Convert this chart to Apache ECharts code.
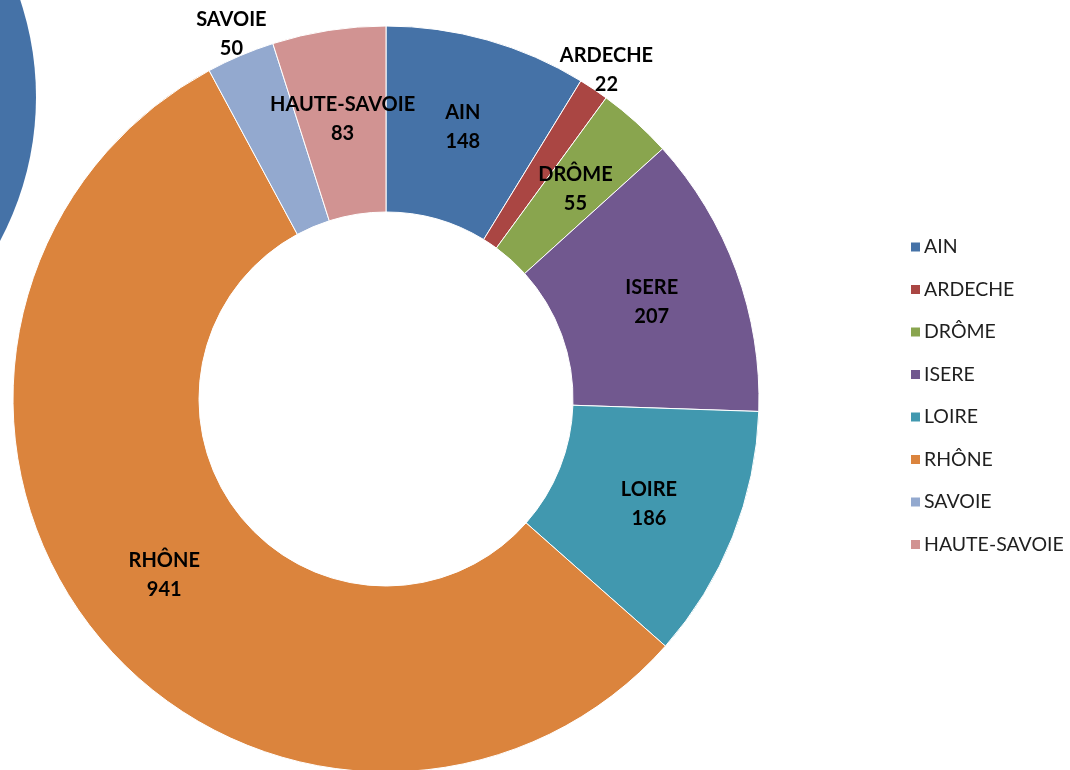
<!DOCTYPE html>
<html><head><meta charset="utf-8">
<script src="https://cdn.jsdelivr.net/npm/echarts@6/dist/echarts.min.js"></script>
<style>html,body{margin:0;padding:0;background:#fff}#c{width:1070px;height:770px}</style>
</head><body><div id="c"></div>
<script>
const categories = ['AIN','ARDECHE','DRÔME','ISERE','LOIRE','RHÔNE','SAVOIE','HAUTE-SAVOIE'];
const values = [148,22,55,207,186,941,50,83];
const colors = ['#4572A7','#AA4643','#89A54E','#71588F','#4198AF','#DB843D','#93A9CF','#D19392'];
const outsideLabels = ['ARDECHE','SAVOIE'];

const font = 'Lato, "Open Sans", sans-serif';
const chart = echarts.init(document.getElementById('c'));
const labelStyle = {
  formatter: '{b}\n{c}', fontFamily: font, fontWeight: 'bold', fontSize: 20,
  lineHeight: 29, color: '#000'
};
chart.setOption({
  animation: false,
  color: colors,
  graphic: [{ type: 'circle', shape: { cx: -270, cy: 97, r: 306 }, style: { fill: '#4572A7' }, z: 0 }],
  legend: {
    orient: 'vertical', left: 904, top: 232, itemGap: 22.5,
    itemWidth: 11, itemHeight: 11, icon: 'rect',
    data: categories,
    textStyle: { fontFamily: font, fontSize: 19.5, color: '#1f1f1f', padding: [0,0,0,-2] }
  },
  series: [{
    type: 'pie', center: [386, 399], radius: [187, 373], startAngle: 90, clockwise: true,
    avoidLabelOverlap: false,
    itemStyle: { borderColor: '#fff', borderWidth: 1 },
    label: Object.assign({ show: true, position: 'inside' }, labelStyle),
    labelLine: { show: false },
    emphasis: { disabled: true },
    data: categories.map((n, i) => ({
      name: n, value: values[i],
      label: { show: outsideLabels.indexOf(n) < 0 }
    }))
  }, {
    type: 'pie', center: [386, 399], radius: [373, 413], startAngle: 90, clockwise: true,
    silent: true, avoidLabelOverlap: false,
    itemStyle: { color: 'transparent', borderWidth: 0 },
    label: Object.assign({ show: true, position: 'inside' }, labelStyle),
    labelLine: { show: false },
    emphasis: { disabled: true },
    data: categories.map((n, i) => ({
      name: n, value: values[i],
      label: { show: outsideLabels.indexOf(n) >= 0 }
    }))
  }]
});
</script></body></html>
